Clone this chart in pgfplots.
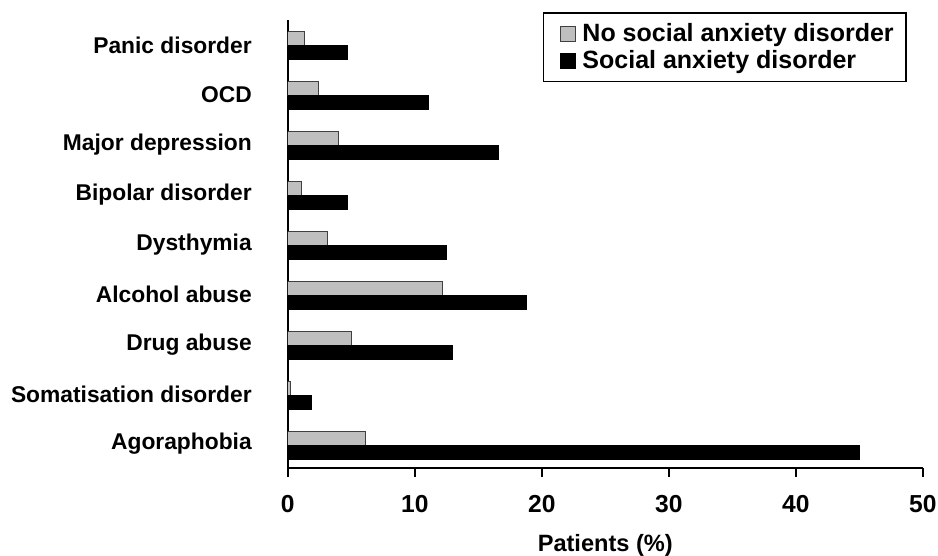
\documentclass[border=0pt]{standalone}
\usepackage{fontspec}
\setmainfont{Liberation Sans}
\usepackage{pgfplots}
\pgfplotsset{compat=1.18}
\definecolor{barGray}{RGB}{191,191,191}
\begin{document}
\begin{tikzpicture}
\useasboundingbox (-143.9pt,-44pt) rectangle (325.1pt,234pt);
\begin{axis}[
  scale only axis, width=317.5pt, height=224pt,
  at={(0,0)}, anchor=south west,
  xmin=0, xmax=50, ymin=-0.46, ymax=8.52,
  axis x line*=bottom, axis y line*=left,
  axis line style={-, line width=0.9pt},
  xtick={0,10,...,50}, tick align=outside, major tick length=4.5pt,
  x tick style={line width=0.9pt, black},
  ytick={0,...,8},
  yticklabels={Agoraphobia, Somatisation disorder, Drug abuse, Alcohol abuse, Dysthymia, Bipolar disorder, Major depression, OCD, Panic disorder},
  y tick style={draw=none},
  /pgf/number format/assume math mode=true,
  xticklabel style={font=\fontsize{12.3}{14}\selectfont\bfseries, yshift=-5.5pt},
  yticklabel style={font=\fontsize{11.4}{13}\selectfont\bfseries, anchor=east, xshift=-10pt, yshift=0.5pt},
  xlabel={Patients (\%)},
  xlabel style={font=\fontsize{11.8}{14}\selectfont\bfseries, at={(axis description cs:0.5,0)}, anchor=center, yshift=-38.5pt},
  xbar, bar width=7pt,
  legend style={at={(axis description cs:0.9745,1.017)}, anchor=north east, draw=black, line width=0.9pt,
    font=\fontsize{12.5}{13.5}\selectfont\bfseries, inner xsep=4pt, inner ysep=3pt, row sep=-1pt,
    cells={anchor=west}},
  legend image code/.code={\path[draw=none, fill=none] (-4.5pt,0) -- (9pt,0);\draw[#1, line width=0.5pt] (0pt,-3.75pt) rectangle (7.5pt,3.75pt);},
]
\addplot[xbar, bar shift=3.5pt, fill=barGray, draw=black!75, line width=0.5pt]
  coordinates {(6.1,0) (0.25,1) (5.0,2) (12.15,3) (3.1,4) (1.05,5) (4.0,6) (2.4,7) (1.3,8)};
\addplot[xbar, bar shift=-3.5pt, fill=black, draw=black, line width=0.5pt]
  coordinates {(45.0,0) (1.9,1) (13.0,2) (18.8,3) (12.5,4) (4.7,5) (16.6,6) (11.1,7) (4.7,8)};
\legend{No social anxiety disorder, Social anxiety disorder}
\end{axis}
\end{tikzpicture}
\end{document}
